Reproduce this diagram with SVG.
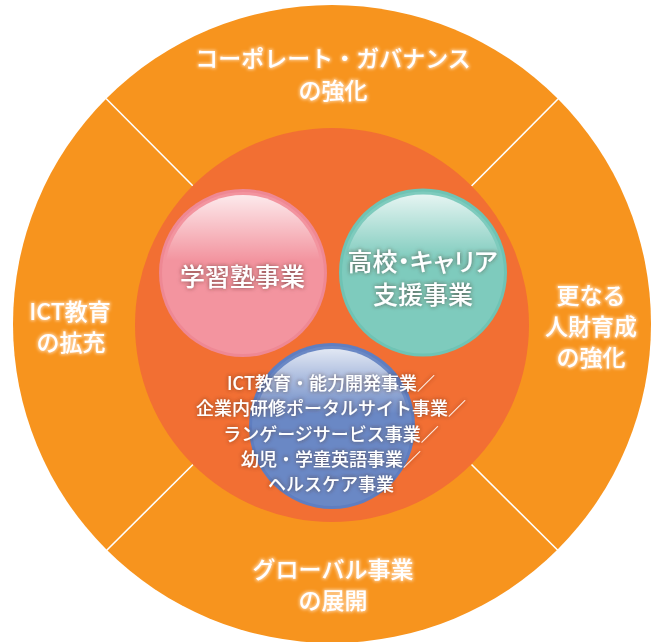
<svg xmlns="http://www.w3.org/2000/svg" width="653" height="642" viewBox="0 0 653 642">
  <style>
    text { font-family: "Noto Sans CJK JP", "Noto Sans", sans-serif; fill: #ffffff; text-anchor: middle; dominant-baseline: central; font-weight: 500; }
    .outer { font-size: 23px; filter: url(#glowLight); }
    .inner { font-size: 25px; filter: url(#glowDark); }
    .small { font-size: 18px; filter: url(#glowDark); }
    .sep { stroke: #ffffff; stroke-width: 1.6; }
  </style>
  <defs>
    <filter id="glowLight" x="-20%" y="-40%" width="140%" height="180%">
      <feMorphology in="SourceAlpha" operator="dilate" radius="1" result="d"/>
      <feGaussianBlur in="d" stdDeviation="1.6" result="b"/>
      <feFlood flood-color="#ffd09a" flood-opacity="0.95"/>
      <feComposite in2="b" operator="in" result="g"/>
      <feMerge><feMergeNode in="g"/><feMergeNode in="SourceGraphic"/></feMerge>
    </filter>
    <filter id="glowDark" x="-20%" y="-40%" width="140%" height="180%">
      <feGaussianBlur in="SourceAlpha" stdDeviation="2" result="b"/>
      <feFlood flood-color="#4a2a20" flood-opacity="0.7"/>
      <feComposite in2="b" operator="in" result="g"/>
      <feMerge><feMergeNode in="g"/><feMergeNode in="SourceGraphic"/></feMerge>
    </filter>
    <linearGradient id="gloss" x1="0" y1="0" x2="0" y2="1">
      <stop offset="0" stop-color="#ffffff" stop-opacity="0.8"/>
      <stop offset="0.42" stop-color="#ffffff" stop-opacity="0"/>
    </linearGradient>
  </defs>

  <g id="outer-ring">
    <circle cx="332" cy="324" r="319" fill="#f7941e"/>
  </g>

  <g id="connectors">
    <line class="sep" x1="106" y1="98.5" x2="193" y2="186"/>
    <line class="sep" x1="558.5" y1="98.5" x2="471.5" y2="186"/>
    <line class="sep" x1="106" y1="551" x2="193" y2="464.5"/>
    <line class="sep" x1="558.5" y1="551" x2="471.5" y2="464.5"/>
  </g>

  <g id="inner-core">
    <circle cx="332" cy="325" r="197" fill="#f26f33"/>
  </g>

  <g id="label-governance">
    <text class="outer" x="333" y="56.5">コーポレート・ガバナンス</text>
    <text class="outer" x="333" y="88.5">の強化</text>
  </g>
  <g id="label-ict">
    <text class="outer" x="70" y="310">ICT教育</text>
    <text class="outer" x="71" y="341">の拡充</text>
  </g>
  <g id="label-hr">
    <text class="outer" x="591" y="294">更なる</text>
    <text class="outer" x="591" y="325">人財育成</text>
    <text class="outer" x="591" y="356">の強化</text>
  </g>
  <g id="label-global">
    <text class="outer" x="333" y="568">グローバル事業</text>
    <text class="outer" x="333" y="599">の展開</text>
  </g>

  <g id="node-juku">
    <circle cx="243" cy="273" r="84" fill="#ee8894"/>
    <circle cx="243" cy="273" r="81" fill="#f3949f"/>
    <circle cx="243" cy="273" r="78" fill="url(#gloss)"/>
    <text class="inner" x="242.5" y="275">学習塾事業</text>
  </g>

  <g id="node-career">
    <circle cx="423" cy="272.5" r="84" fill="#6fc3b4"/>
    <circle cx="423" cy="272.5" r="81" fill="#7ecbbd"/>
    <circle cx="423" cy="272.5" r="78" fill="url(#gloss)"/>
    <text class="inner" x="422.5" y="260" style="font-feature-settings:'palt'">高校・キャリア</text>
    <text class="inner" x="423" y="293">支援事業</text>
  </g>

  <g id="node-ict-business">
    <circle cx="332" cy="426" r="83" fill="#5f7ec1"/>
    <circle cx="332" cy="426" r="80" fill="#6a88c5"/>
    <circle cx="332" cy="426" r="77" fill="url(#gloss)"/>
    <text class="small" x="331" y="381.5">ICT教育・能力開発事業／</text>
    <text class="small" x="331" y="407">企業内研修ポータルサイト事業／</text>
    <text class="small" x="331" y="432.5">ランゲージサービス事業／</text>
    <text class="small" x="331" y="457.5">幼児・学童英語事業／</text>
    <text class="small" x="331" y="483">ヘルスケア事業</text>
  </g>
</svg>
